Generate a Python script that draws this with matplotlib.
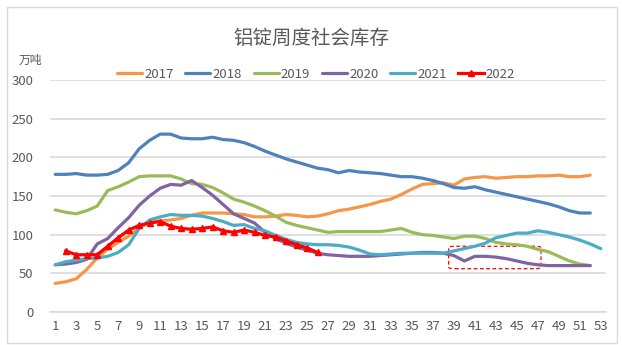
import matplotlib
matplotlib.use('Agg')
import matplotlib.pyplot as plt
from matplotlib.patches import Rectangle, FancyBboxPatch
import numpy as np

plt.rcParams['font.family'] = ['Liberation Sans Narrow', 'Noto Sans CJK SC', 'DejaVu Sans']

# weekly social inventory of aluminium ingots, 10k tonnes
weeks = list(range(1, 54))
s2017 = [37, 39, 43, 55, 70, 81, 90, 98, 109, 116, 118, 119, 121, 125, 128, 128, 128, 127, 126, 123,
         123, 124, 126, 125, 123, 124, 127, 131, 133, 136, 139, 143, 146, 152, 159, 165, 166, 167, 164, 172,
         174, 175, 173, 174, 175, 175, 176, 176, 177, 175, 175, 177]
s2018 = [178, 178, 179, 177, 177, 178, 183, 193, 211, 222, 230, 230, 225, 224, 224, 226, 223, 222, 219, 214,
         208, 203, 198, 194, 190, 186, 184, 180, 183, 181, 180, 179, 177, 175, 175, 173, 170, 166, 161, 160,
         162, 158, 155, 152, 149, 146, 143, 140, 136, 131, 128, 128]
s2019 = [132, 129, 127, 131, 137, 157, 162, 168, 175, 176, 176, 176, 172, 166, 165, 161, 154, 146, 142, 137,
         131, 124, 116, 112, 109, 106, 103, 104, 104, 104, 104, 104, 106, 108, 103, 100, 99, 97, 95, 98,
         98, 95, 90, 88, 87, 85, 81, 78, 72, 66, 62, 60]
s2020 = [61, 62, 64, 68, 88, 95, 109, 122, 138, 150, 160, 165, 164, 170, 161, 151, 139, 127, 121, 115,
         103, 95, 89, 84, 80, 76, 74, 73, 72, 72, 72, 73, 74, 75, 76, 77, 77, 76, 73, 66,
         72, 72, 71, 69, 66, 63, 61, 60, 60, 60, 60, 60]
s2021 = [61, 65, 67, 69, 70, 72, 77, 87, 108, 119, 123, 126, 125, 125, 124, 121, 117, 112, 113, 108,
         105, 99, 94, 90, 88, 87, 87, 86, 84, 80, 75, 74, 75, 76, 76, 76, 76, 76, 79, 82,
         85, 89, 96, 99, 102, 102, 105, 103, 100, 97, 93, 88, 82]
# 2022 starts from week 2
s2022 = [79, 74, 74, 74, 85, 96, 106, 112, 115, 117, 111, 108, 107, 108, 110, 105, 103, 106, 103,
         99, 97, 92, 87, 83, 77]
years = ['2017', '2018', '2019', '2020', '2021', '2022']
colors = ['#F79646', '#4F81BD', '#9BBB59', '#8064A2', '#4BACC6', '#FF0000']

fig = plt.figure(figsize=(6.22, 3.45), dpi=100)
ax = fig.add_axes([50 / 622, 1 - 312 / 345, 556 / 622, 232 / 345])

series = [s2017, s2018, s2019, s2020, s2021]
for yr, s, c in zip(years[:5], series, colors[:5]):
    ax.plot(weeks[:len(s)], s, color=c, lw=2.3, label=yr, solid_capstyle='round')
ax.plot(weeks[1:1 + len(s2022)], s2022, color=colors[5], lw=2.3, marker='^', ms=4,
        label=years[5])

# highlight box around the autumn lows
box = FancyBboxPatch((38.5, 56), 8.8, 29, boxstyle='round,pad=0,rounding_size=0.6',
                     fill=False, ec='#FF0000', ls=(0, (3, 2)), lw=0.9,
                     mutation_aspect=3)
ax.add_patch(box)

ax.set_xlim(0.5, 53.5)
ax.set_ylim(0, 300)
ax.set_yticks(range(0, 301, 50))
ax.set_xticks(range(1, 54, 2))
ax.grid(axis='y', color='#D9D9D9', lw=1.2)
ax.set_axisbelow(True)
for sp in ['top', 'right', 'left']:
    ax.spines[sp].set_visible(False)
ax.spines['bottom'].set_color('#D9D9D9')
ax.spines['bottom'].set_linewidth(1.2)
ax.tick_params(length=0, colors='#595959', labelsize=9.5)
ax.tick_params(axis='y', pad=12)
ax.tick_params(axis='x', pad=6)

fig.text(0.5, 0.89, '铝锭周度社会库存', ha='center', va='center', fontsize=14,
         color='#595959', family=['Noto Sans CJK SC'])
fig.text(30 / 622, 1 - 60 / 345, '万吨', ha='center', va='center', fontsize=8.5,
         color='#595959', family=['Noto Sans CJK SC'])

fig.legend(loc='center', bbox_to_anchor=(0.508, 1 - 74 / 345), ncol=6, frameon=False,
           fontsize=9.5, handlelength=1.9, handletextpad=0.15, columnspacing=0.9,
           labelcolor='#595959')

fig.patches.append(Rectangle((7 / 622, 2 / 345), 610 / 622, 336 / 345, transform=fig.transFigure,
                             fill=False, ec='#D9D9D9', lw=1))

fig.savefig('out.png', dpi=100)
